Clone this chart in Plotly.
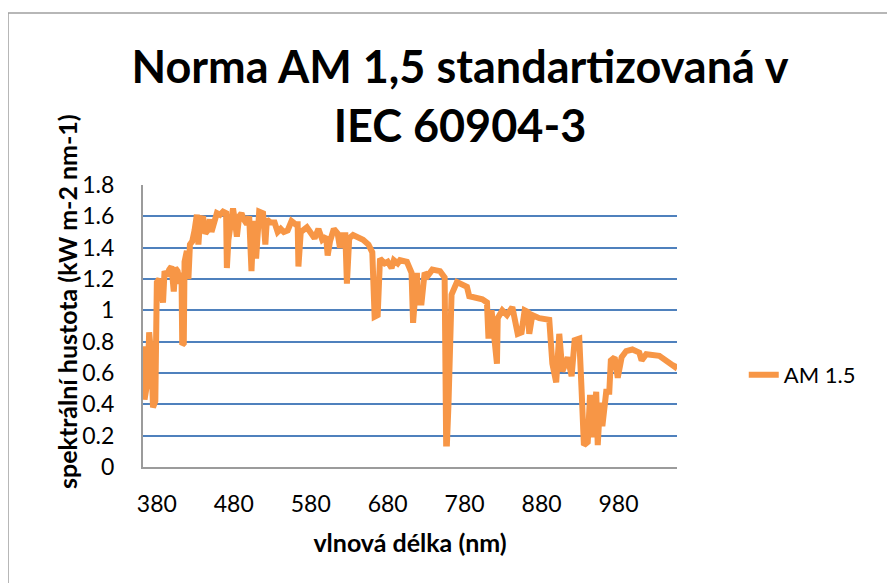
import plotly.graph_objects as go

wavelength_nm = [362, 364, 368, 370, 373, 375, 378, 380, 383, 386, 388, 390, 393, 396, 399, 402, 404,
                 407, 410, 412, 413, 415, 416, 419, 421, 423, 426, 429, 432, 434, 436, 440, 443, 446,
                 449, 451, 454, 458, 462, 466, 470, 471, 473, 477, 479, 482, 484, 487, 490, 493, 497,
                 500, 503, 505, 507, 509, 511, 513, 518, 521, 523, 528, 533, 537, 541, 545, 550, 555,
                 560, 563, 564, 567, 575, 580, 585, 590, 595, 600, 602, 605, 610, 615, 618, 622, 625,
                 627, 630, 635, 640, 648, 655, 660, 663, 667, 670, 676, 680, 685, 688, 693, 696, 705,
                 711, 713, 718, 719, 724, 728, 732, 738, 748, 754, 756, 757, 759, 763, 770, 783, 786,
                 795, 803, 809, 811, 815, 822, 823, 829, 835, 842, 849, 854, 858, 862, 864, 868, 877,
                 890, 894, 899, 903, 907, 914, 919, 923, 929, 932, 935, 940, 943, 946, 951, 953, 956,
                 959, 964, 968, 970, 975, 979, 984, 990, 998, 1007, 1010, 1016, 1033, 1050, 1053, 1055]

am15_kw = [0.77, 0.43, 0.55, 0.86, 0.70, 0.38, 0.42, 1.18, 1.20, 1.10, 1.05, 1.25, 1.22, 1.26, 1.28, 1.12, 1.27,
           1.25, 1.17, 1.24, 0.78, 0.79, 1.31, 1.38, 1.20, 1.42, 1.44, 1.51, 1.61, 1.42, 1.56, 1.60, 1.49, 1.51,
           1.58, 1.50, 1.57, 1.62, 1.61, 1.63, 1.62, 1.27, 1.45, 1.64, 1.65, 1.55, 1.47, 1.60, 1.62, 1.58, 1.55,
           1.60, 1.25, 1.50, 1.57, 1.33, 1.52, 1.63, 1.62, 1.42, 1.58, 1.56, 1.56, 1.50, 1.52, 1.50, 1.51, 1.57,
           1.55, 1.55, 1.28, 1.50, 1.53, 1.50, 1.46, 1.52, 1.45, 1.47, 1.35, 1.44, 1.52, 1.49, 1.40, 1.48, 1.48,
           1.17, 1.46, 1.48, 1.47, 1.45, 1.42, 1.37, 0.96, 0.97, 1.33, 1.30, 1.31, 1.27, 1.32, 1.30, 1.32, 1.31,
           1.24, 0.92, 1.24, 1.05, 1.05, 1.24, 1.22, 1.26, 1.25, 1.21, 0.15, 0.15, 0.40, 1.10, 1.18, 1.15, 1.09,
           1.08, 1.07, 1.05, 0.82, 1.00, 0.66, 0.95, 1.00, 0.97, 1.02, 0.85, 0.86, 1.00, 0.99, 0.85, 0.97, 0.95,
           0.94, 0.66, 0.54, 0.85, 0.61, 0.70, 0.58, 0.81, 0.82, 0.49, 0.14, 0.16, 0.46, 0.19, 0.48, 0.14, 0.41,
           0.26, 0.48, 0.48, 0.68, 0.70, 0.57, 0.70, 0.74, 0.75, 0.73, 0.68, 0.72, 0.71, 0.66, 0.64, 0.66]

x_ticks = [380, 480, 580, 680, 780, 880, 980]
y_ticks = [0, 0.2, 0.4, 0.6, 0.8, 1, 1.2, 1.4, 1.6, 1.8]
y_tick_labels = ["0", "0.2", "0.4", "0.6", "0.8", "1", "1.2", "1.4", "1.6", "1.8"]

FONT = "Lato"
ORANGE = "#F79646"
GRID = "#4F81BD"

# page body has an 8px offset; plot area target: x 143..677, y 185..467 on screen
OFF = 8
L, R, T, B = 143 - OFF, 677 - OFF, 185 - OFF, 467 - OFF

fig = go.Figure()
fig.add_trace(go.Scatter(
    x=wavelength_nm, y=am15_kw, mode="lines", name="AM 1.5",
    line=dict(color=ORANGE, width=6),
))

fig.update_layout(
    width=895, height=583, autosize=False,
    margin=dict(l=L, r=895 - R, t=T, b=583 - B),
    paper_bgcolor="white", plot_bgcolor="white",
    font=dict(family=FONT, color="black", size=22),
    title=dict(
        text="<b>Norma AM 1,5 standartizovaná v<br>IEC 60904-3</b>",
        x=(460 - OFF) / 895, xanchor="center", xref="container",
        y=1 - (83 - OFF) / 583, yanchor="middle", yref="container",
        font=dict(family=FONT, size=45, color="black"),
    ),
    showlegend=True,
    legend=dict(
        x=1.125, xanchor="left", y=(467 - 375) / 282, yanchor="middle",
        font=dict(family=FONT, size=22, color="black"),
        bgcolor="rgba(0,0,0,0)",
    ),
    xaxis=dict(
        range=[362, 1056], tickmode="array", tickvals=x_ticks,
        ticks="outside", ticklen=15, tickcolor="rgba(0,0,0,0)",
        showgrid=False, zeroline=False,
        showline=True, linecolor="#9b9b9b", linewidth=2,
        title=dict(text="<b>vlnová délka (nm)</b>", font=dict(family=FONT, size=25), standoff=19),
        tickfont=dict(family=FONT, size=23),
    ),
    yaxis=dict(
        range=[0, 1.8], tickmode="array", tickvals=y_ticks, ticktext=y_tick_labels,
        ticks="outside", ticklen=22, tickcolor="rgba(0,0,0,0)",
        showgrid=True, gridcolor=GRID, gridwidth=1.5, zeroline=False,
        showline=True, linecolor="#9b9b9b", linewidth=2,
        tickfont=dict(family=FONT, size=23),
    ),
    annotations=[dict(
        text="<b>spektrální hustota (kW m-2 nm-1)</b>", textangle=-90,
        xref="paper", yref="paper",
        x=(67 - 143) / 534, y=(467 - 302) / 282,
        xanchor="center", yanchor="middle", showarrow=False,
        font=dict(family=FONT, size=25, color="black"),
    )],
    shapes=[dict(type="rect", xref="paper", yref="paper",
                 x0=(8 - 143) / 534, x1=(905 - 143) / 534,
                 y0=(467 - 600) / 282, y1=(467 - 13) / 282,
                 line=dict(color="#a0a0a0", width=1.5), fillcolor="rgba(0,0,0,0)", layer="below")],
)

fig.write_html("out.html")
